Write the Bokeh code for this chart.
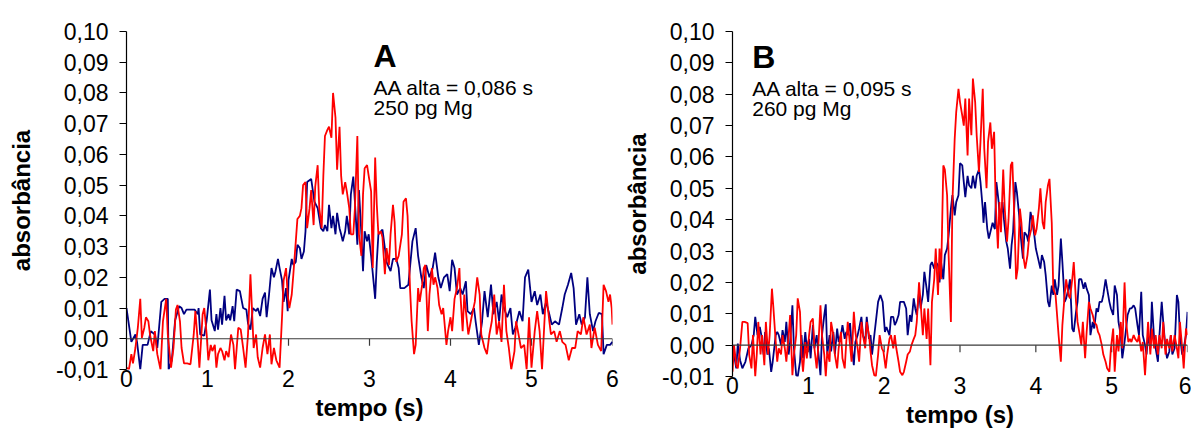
from bokeh.plotting import figure
from bokeh.layouts import row
from bokeh.models import (ColumnDataSource, Label, Span, FixedTicker,
                          CustomJSTickFormatter)
from bokeh.embed import file_html
from bokeh.resources import INLINE

# ---------------------------------------------------------------- data
time_ticks = [0, 1, 2, 3, 4, 5, 6]
abs_ticks = [-0.01, 0.00, 0.01, 0.02, 0.03, 0.04, 0.05, 0.06, 0.07, 0.08, 0.09, 0.10]

# panel A: (tempo s, absorbância)
a_blue = [(0.00,0.0100),(0.06,-0.0010),(0.11,0.0014),(0.13,-0.0010),(0.17,-0.0100),(0.20,-0.0020),(0.26,-0.0020),(0.30,0.0025),(0.35,0.0014),(0.38,-0.0030),(0.43,0.0120),(0.47,0.0130),(0.51,0.0130),(0.52,-0.0100),(0.56,-0.0070),(0.60,0.0060),(0.65,0.0106),(0.68,0.0100),(0.71,0.0080),(0.74,0.0095),(0.79,0.0095),(0.84,0.0095),(0.88,0.0080),(0.89,0.0100),(0.91,0.0014),(0.96,0.0010),(0.99,0.0060),(1.03,0.0160),(1.05,0.0060),(1.09,0.0025),(1.11,0.0080),(1.13,0.0030),(1.16,0.0100),(1.18,0.0046),(1.21,0.0140),(1.23,0.0060),(1.26,0.0080),(1.28,0.0060),(1.31,0.0106),(1.33,0.0057),(1.36,0.0160),(1.40,0.0155),(1.44,0.0100),(1.48,0.0095),(1.50,0.0050),(1.53,0.0030),(1.56,0.0100),(1.60,0.0090),(1.62,0.0100),(1.65,0.0074),(1.68,0.0130),(1.71,0.0150),(1.73,0.0070),(1.76,0.0144),(1.79,0.0230),(1.82,0.0200),(1.84,0.0220),(1.87,0.0260),(1.89,0.0230),(1.92,0.0190),(1.94,0.0120),(1.97,0.0165),(1.99,0.0090),(2.00,0.0190),(2.04,0.0260),(2.06,0.0240),(2.09,0.0250),(2.11,0.0306),(2.14,0.0295),(2.16,0.0260),(2.19,0.0284),(2.21,0.0350),(2.23,0.0510),(2.28,0.0520),(2.32,0.0446),(2.36,0.0425),(2.40,0.0360),(2.43,0.0350),(2.45,0.0370),(2.48,0.0350),(2.50,0.0436),(2.53,0.0360),(2.55,0.0400),(2.58,0.0340),(2.60,0.0410),(2.63,0.0360),(2.65,0.0340),(2.67,0.0317),(2.70,0.0350),(2.72,0.0400),(2.75,0.0340),(2.77,0.0470),(2.80,0.0528),(2.82,0.0446),(2.85,0.0306),(2.87,0.0484),(2.90,0.0340),(2.92,0.0220),(2.94,0.0350),(2.97,0.0317),(2.99,0.0340),(3.02,0.0270),(3.07,0.0130),(3.09,0.0250),(3.11,0.0340),(3.16,0.0355),(3.19,0.0295),(3.21,0.0250),(3.26,0.0220),(3.29,0.0260),(3.33,0.0260),(3.36,0.0230),(3.38,0.0165),(3.43,0.0165),(3.48,0.0176),(3.53,0.0317),(3.57,0.0360),(3.60,0.0270),(3.64,0.0200),(3.67,0.0165),(3.70,0.0240),(3.74,0.0200),(3.78,0.0230),(3.81,0.0280),(3.85,0.0200),(3.88,0.0165),(3.92,0.0200),(3.96,0.0210),(3.99,0.0155),(4.02,0.0257),(4.05,0.0230),(4.08,0.0144),(4.12,0.0165),(4.15,0.0144),(4.19,0.0187),(4.21,0.0090),(4.25,0.0080),(4.29,0.0100),(4.31,0.0057),(4.35,-0.0020),(4.39,0.0057),(4.42,0.0155),(4.46,0.0070),(4.50,0.0176),(4.53,0.0080),(4.57,0.0120),(4.60,0.0057),(4.63,0.0144),(4.66,0.0100),(4.70,0.0070),(4.74,0.0100),(4.77,0.0014),(4.80,0.0036),(4.85,0.0090),(4.89,0.0057),(4.92,0.0200),(4.96,0.0225),(5.00,0.0120),(5.04,0.0155),(5.07,0.0110),(5.11,0.0144),(5.14,0.0080),(5.18,0.0120),(5.22,0.0080),(5.25,0.0046),(5.29,0.0057),(5.34,0.0046),(5.38,0.0100),(5.41,0.0144),(5.45,0.0176),(5.49,0.0214),(5.52,0.0165),(5.55,0.0046),(5.59,0.0080),(5.62,0.0046),(5.66,0.0070),(5.69,0.0200),(5.72,0.0080),(5.76,0.0025),(5.79,0.0057),(5.83,0.0084),(5.87,0.0080),(5.89,-0.0050),(5.93,-0.0020),(5.97,-0.0020),(6.00,-0.0010)]

a_red = [(0.00,-0.0094),(0.03,-0.0100),(0.06,-0.0050),(0.08,-0.0080),(0.11,-0.0030),(0.14,0.0036),(0.17,0.0130),(0.19,0.0003),(0.22,0.0036),(0.24,0.0070),(0.27,0.0057),(0.29,0.0014),(0.33,-0.0040),(0.35,0.0025),(0.38,-0.0050),(0.42,-0.0100),(0.45,0.0057),(0.49,0.0130),(0.51,0.0014),(0.55,-0.0094),(0.58,-0.0030),(0.61,0.0095),(0.63,0.0110),(0.66,0.0057),(0.68,-0.0030),(0.71,-0.0080),(0.75,-0.0080),(0.79,-0.0083),(0.83,0.0014),(0.85,0.0090),(0.88,-0.0010),(0.90,-0.0094),(0.94,0.0080),(0.96,0.0100),(0.99,0.0014),(1.01,-0.0070),(1.04,-0.0020),(1.06,-0.0040),(1.09,-0.0020),(1.11,-0.0094),(1.13,-0.0050),(1.16,-0.0030),(1.18,-0.0040),(1.21,-0.0070),(1.23,-0.0040),(1.26,-0.0060),(1.29,0.0014),(1.32,-0.0020),(1.34,-0.0100),(1.38,0.0036),(1.41,0.0030),(1.44,-0.0030),(1.47,-0.0094),(1.50,0.0014),(1.53,0.0210),(1.55,0.0090),(1.57,-0.0030),(1.60,0.0014),(1.62,-0.0060),(1.65,-0.0094),(1.68,-0.0030),(1.71,0.0014),(1.74,-0.0050),(1.77,0.0014),(1.79,-0.0083),(1.82,-0.0030),(1.85,-0.0070),(1.89,-0.0094),(1.92,0.0070),(1.94,0.0190),(1.97,0.0230),(1.99,0.0144),(2.01,0.0100),(2.04,0.0144),(2.06,0.0210),(2.09,0.0317),(2.11,0.0390),(2.14,0.0400),(2.16,0.0425),(2.18,0.0500),(2.21,0.0510),(2.23,0.0360),(2.26,0.0425),(2.28,0.0484),(2.31,0.0370),(2.33,0.0495),(2.36,0.0565),(2.38,0.0425),(2.41,0.0360),(2.43,0.0530),(2.45,0.0660),(2.48,0.0680),(2.50,0.0690),(2.53,0.0654),(2.55,0.0800),(2.58,0.0720),(2.60,0.0550),(2.63,0.0690),(2.65,0.0530),(2.67,0.0470),(2.70,0.0510),(2.72,0.0480),(2.75,0.0425),(2.77,0.0340),(2.80,0.0340),(2.82,0.0425),(2.85,0.0660),(2.87,0.0340),(2.90,0.0270),(2.92,0.0470),(2.94,0.0555),(2.97,0.0565),(2.99,0.0530),(3.02,0.0480),(3.04,0.0230),(3.07,0.0590),(3.09,0.0436),(3.11,0.0340),(3.14,0.0350),(3.16,0.0330),(3.19,0.0210),(3.21,0.0295),(3.24,0.0240),(3.26,0.0340),(3.29,0.0436),(3.31,0.0380),(3.33,0.0250),(3.36,0.0270),(3.40,0.0340),(3.42,0.0446),(3.45,0.0457),(3.47,0.0400),(3.50,0.0165),(3.52,0.0057),(3.55,-0.0050),(3.57,-0.0020),(3.60,0.0165),(3.62,0.0120),(3.65,0.0176),(3.67,0.0230),(3.69,0.0240),(3.72,0.0025),(3.74,0.0144),(3.77,0.0230),(3.79,0.0176),(3.81,0.0200),(3.84,0.0165),(3.86,0.0110),(3.89,0.0080),(3.91,0.0100),(3.95,-0.0020),(3.97,0.0025),(4.00,0.0070),(4.02,0.0025),(4.05,0.0130),(4.08,0.0165),(4.11,0.0230),(4.12,0.0155),(4.15,0.0025),(4.17,0.0144),(4.19,0.0090),(4.22,0.0014),(4.26,0.0070),(4.30,0.0120),(4.33,0.0200),(4.36,0.0144),(4.38,0.0014),(4.42,-0.0030),(4.45,-0.0050),(4.48,0.0014),(4.51,0.0057),(4.54,0.0144),(4.57,0.0014),(4.60,0.0057),(4.63,-0.0010),(4.66,0.0176),(4.69,0.0025),(4.72,-0.0030),(4.75,-0.0100),(4.79,-0.0040),(4.81,0.0057),(4.84,0.0014),(4.87,-0.0030),(4.91,-0.0020),(4.94,-0.0100),(4.97,0.0070),(5.00,-0.0094),(5.04,0.0025),(5.07,0.0090),(5.10,0.0025),(5.13,-0.0100),(5.16,0.0057),(5.18,0.0155),(5.22,0.0057),(5.24,0.0014),(5.28,0.0025),(5.31,-0.0010),(5.35,0.0025),(5.38,-0.0010),(5.42,-0.0020),(5.46,-0.0070),(5.50,-0.0030),(5.54,-0.0030),(5.57,0.0025),(5.61,0.0014),(5.64,0.0070),(5.68,0.0014),(5.72,0.0046),(5.74,-0.0030),(5.78,0.0036),(5.82,-0.0020),(5.86,-0.0040),(5.89,0.0176),(5.92,0.0155),(5.95,0.0120),(5.97,0.0144),(5.99,0.0100),(6.00,0.0046)]

# panel B: (tempo s, absorbância)
b_blue = [(0.00,0.0000),(0.02,-0.0030),(0.05,-0.0074),(0.07,0.0005),(0.10,-0.0048),(0.13,-0.0074),(0.17,-0.0053),(0.21,-0.0010),(0.25,0.0000),(0.28,0.0032),(0.30,0.0090),(0.33,0.0032),(0.36,0.0058),(0.38,0.0032),(0.41,-0.0030),(0.43,0.0042),(0.46,-0.0030),(0.48,-0.0010),(0.51,-0.0085),(0.53,-0.0053),(0.57,0.0032),(0.59,0.0042),(0.61,0.0032),(0.64,0.0000),(0.66,0.0048),(0.69,0.0010),(0.71,0.0074),(0.74,-0.0030),(0.76,0.0010),(0.79,0.0127),(0.81,-0.0010),(0.84,-0.0096),(0.86,-0.0100),(0.89,-0.0053),(0.91,0.0032),(0.93,-0.0042),(0.96,0.0042),(0.98,-0.0010),(1.01,0.0020),(1.03,-0.0042),(1.06,0.0064),(1.08,-0.0010),(1.11,0.0032),(1.13,-0.0020),(1.16,-0.0096),(1.18,0.0032),(1.21,0.0096),(1.23,0.0130),(1.25,-0.0030),(1.28,0.0032),(1.30,-0.0020),(1.33,0.0042),(1.35,-0.0030),(1.38,0.0053),(1.40,0.0010),(1.43,0.0032),(1.45,0.0064),(1.48,0.0020),(1.50,0.0042),(1.52,0.0032),(1.55,0.0070),(1.57,0.0000),(1.60,-0.0064),(1.62,0.0010),(1.65,0.0032),(1.67,0.0053),(1.70,0.0090),(1.72,0.0032),(1.75,0.0010),(1.77,0.0090),(1.80,0.0020),(1.82,0.0032),(1.84,-0.0030),(1.87,0.0032),(1.89,0.0074),(1.92,0.0138),(1.95,0.0160),(1.98,0.0138),(2.01,0.0042),(2.03,0.0058),(2.07,0.0032),(2.09,0.0090),(2.12,0.0090),(2.14,0.0064),(2.16,0.0074),(2.19,0.0096),(2.21,0.0138),(2.24,0.0138),(2.26,0.0138),(2.29,0.0117),(2.31,0.0032),(2.34,0.0096),(2.36,0.0074),(2.39,0.0149),(2.41,0.0117),(2.43,0.0096),(2.46,0.0170),(2.48,0.0117),(2.51,0.0160),(2.53,0.0234),(2.56,0.0180),(2.58,0.0138),(2.61,0.0255),(2.63,0.0265),(2.66,0.0244),(2.68,0.0265),(2.71,0.0255),(2.73,0.0200),(2.75,0.0265),(2.78,0.0210),(2.80,0.0287),(2.83,0.0308),(2.85,0.0350),(2.88,0.0435),(2.90,0.0478),(2.93,0.0414),(2.95,0.0456),(2.98,0.0478),(3.00,0.0580),(3.03,0.0573),(3.05,0.0520),(3.07,0.0472),(3.10,0.0540),(3.12,0.0510),(3.15,0.0500),(3.17,0.0540),(3.20,0.0500),(3.22,0.0540),(3.25,0.0560),(3.27,0.0520),(3.30,0.0435),(3.31,0.0390),(3.33,0.0456),(3.36,0.0370),(3.38,0.0340),(3.41,0.0370),(3.43,0.0390),(3.46,0.0370),(3.48,0.0520),(3.51,0.0456),(3.53,0.0390),(3.56,0.0456),(3.58,0.0400),(3.61,0.0330),(3.63,0.0308),(3.66,0.0244),(3.68,0.0318),(3.70,0.0360),(3.73,0.0520),(3.75,0.0488),(3.78,0.0414),(3.80,0.0350),(3.83,0.0276),(3.85,0.0360),(3.88,0.0350),(3.90,0.0330),(3.93,0.0425),(3.95,0.0400),(3.98,0.0350),(4.00,0.0308),(4.02,0.0287),(4.06,0.0244),(4.08,0.0287),(4.11,0.0265),(4.13,0.0223),(4.16,0.0138),(4.18,0.0122),(4.21,0.0190),(4.23,0.0160),(4.25,0.0210),(4.28,0.0160),(4.30,0.0190),(4.33,0.0340),(4.35,0.0265),(4.38,0.0138),(4.40,0.0149),(4.43,0.0180),(4.45,0.0210),(4.48,0.0053),(4.50,0.0042),(4.53,0.0106),(4.55,0.0138),(4.57,0.0210),(4.60,0.0210),(4.63,0.0180),(4.65,0.0200),(4.67,0.0180),(4.70,0.0160),(4.72,0.0032),(4.75,0.0074),(4.77,0.0053),(4.80,0.0117),(4.82,0.0106),(4.84,0.0138),(4.87,0.0138),(4.89,0.0160),(4.92,0.0210),(4.94,0.0180),(4.97,0.0138),(4.99,0.0117),(5.02,0.0096),(5.04,0.0190),(5.07,0.0160),(5.09,0.0074),(5.12,0.0032),(5.14,-0.0042),(5.17,0.0010),(5.19,0.0053),(5.21,0.0096),(5.24,0.0117),(5.26,0.0117),(5.29,0.0127),(5.31,0.0117),(5.34,0.0064),(5.36,0.0032),(5.39,0.0170),(5.41,0.0032),(5.44,0.0000),(5.46,-0.0030),(5.48,0.0032),(5.51,-0.0010),(5.53,0.0138),(5.56,0.0020),(5.58,-0.0010),(5.61,-0.0053),(5.63,0.0032),(5.66,0.0138),(5.68,0.0074),(5.71,-0.0010),(5.73,-0.0042),(5.76,-0.0020),(5.78,0.0032),(5.80,-0.0030),(5.83,-0.0010),(5.86,0.0160),(5.88,0.0138),(5.90,0.0032),(5.93,-0.0030),(5.95,-0.0010),(5.98,0.0032),(6.00,0.0106)]

b_red = [(0.00,-0.0085),(0.02,0.0000),(0.05,-0.0064),(0.07,-0.0074),(0.10,-0.0010),(0.13,0.0074),(0.16,0.0074),(0.20,0.0070),(0.22,-0.0030),(0.25,-0.0074),(0.27,0.0032),(0.30,-0.0100),(0.32,-0.0030),(0.34,0.0074),(0.37,-0.0030),(0.39,0.0032),(0.42,-0.0064),(0.44,0.0074),(0.47,-0.0030),(0.49,0.0032),(0.52,0.0180),(0.54,0.0117),(0.57,0.0010),(0.59,-0.0053),(0.61,-0.0010),(0.64,-0.0030),(0.66,0.0032),(0.69,-0.0010),(0.71,-0.0053),(0.74,0.0032),(0.76,0.0096),(0.79,-0.0096),(0.81,-0.0030),(0.84,0.0032),(0.86,0.0149),(0.89,0.0106),(0.91,-0.0030),(0.93,-0.0085),(0.96,0.0010),(0.98,-0.0042),(1.01,0.0032),(1.03,0.0074),(1.06,0.0085),(1.08,-0.0010),(1.11,-0.0074),(1.13,-0.0010),(1.16,0.0127),(1.18,0.0032),(1.21,-0.0030),(1.23,-0.0100),(1.25,-0.0020),(1.28,-0.0053),(1.30,0.0074),(1.33,0.0032),(1.35,-0.0030),(1.38,-0.0074),(1.40,-0.0010),(1.43,0.0042),(1.45,-0.0042),(1.48,-0.0074),(1.50,0.0010),(1.52,0.0074),(1.55,0.0000),(1.57,-0.0053),(1.60,0.0106),(1.62,0.0042),(1.65,-0.0010),(1.67,-0.0053),(1.70,0.0074),(1.72,0.0032),(1.75,-0.0010),(1.77,0.0074),(1.80,0.0032),(1.82,-0.0020),(1.84,-0.0064),(1.87,-0.0096),(1.89,-0.0100),(1.92,-0.0030),(1.94,0.0032),(1.97,-0.0010),(1.99,-0.0020),(2.02,-0.0074),(2.04,-0.0030),(2.07,0.0020),(2.09,0.0032),(2.12,-0.0010),(2.14,0.0032),(2.16,-0.0010),(2.19,-0.0053),(2.21,-0.0085),(2.24,-0.0096),(2.26,-0.0085),(2.29,-0.0053),(2.31,-0.0030),(2.34,-0.0020),(2.36,0.0000),(2.39,0.0020),(2.41,0.0032),(2.43,0.0074),(2.46,0.0200),(2.48,0.0138),(2.51,0.0032),(2.53,0.0117),(2.56,0.0020),(2.58,0.0117),(2.61,-0.0064),(2.63,0.0138),(2.66,0.0210),(2.68,0.0308),(2.71,0.0160),(2.73,0.0308),(2.75,0.0210),(2.78,0.0573),(2.80,0.0560),(2.83,0.0478),(2.85,0.0287),(2.88,0.0074),(2.90,0.0456),(2.93,0.0658),(2.95,0.0743),(2.98,0.0817),(3.00,0.0775),(3.03,0.0732),(3.05,0.0700),(3.07,0.0786),(3.10,0.0605),(3.12,0.0786),(3.15,0.0669),(3.17,0.0850),(3.20,0.0775),(3.22,0.0669),(3.25,0.0552),(3.27,0.0648),(3.30,0.0817),(3.32,0.0626),(3.35,0.0500),(3.37,0.0648),(3.40,0.0710),(3.42,0.0626),(3.45,0.0680),(3.47,0.0456),(3.50,0.0308),(3.52,0.0456),(3.54,0.0360),(3.57,0.0560),(3.59,0.0435),(3.62,0.0330),(3.64,0.0400),(3.67,0.0573),(3.69,0.0584),(3.71,0.0456),(3.74,0.0210),(3.76,0.0244),(3.79,0.0435),(3.81,0.0390),(3.84,0.0276),(3.86,0.0244),(3.89,0.0287),(3.91,0.0340),(3.94,0.0370),(3.96,0.0414),(3.99,0.0350),(4.01,0.0370),(4.04,0.0435),(4.06,0.0500),(4.09,0.0390),(4.11,0.0370),(4.13,0.0456),(4.16,0.0510),(4.18,0.0530),(4.21,0.0390),(4.23,0.0180),(4.26,0.0160),(4.28,0.0096),(4.30,0.0032),(4.33,-0.0053),(4.35,0.0064),(4.38,0.0160),(4.40,0.0210),(4.43,0.0160),(4.45,0.0149),(4.48,0.0210),(4.50,0.0265),(4.53,0.0138),(4.55,0.0074),(4.58,0.0032),(4.60,0.0000),(4.62,0.0074),(4.65,-0.0042),(4.67,0.0042),(4.70,0.0138),(4.72,0.0117),(4.75,0.0096),(4.77,0.0074),(4.80,0.0064),(4.82,0.0042),(4.84,0.0032),(4.87,0.0000),(4.89,-0.0030),(4.92,-0.0053),(4.94,-0.0074),(4.97,-0.0085),(4.99,-0.0010),(5.02,0.0053),(5.04,-0.0085),(5.07,0.0032),(5.09,-0.0020),(5.12,0.0074),(5.14,-0.0010),(5.17,0.0200),(5.19,0.0074),(5.22,0.0010),(5.24,0.0020),(5.26,0.0010),(5.29,0.0032),(5.31,0.0020),(5.34,0.0010),(5.36,0.0032),(5.39,-0.0020),(5.41,0.0010),(5.44,-0.0096),(5.46,-0.0010),(5.48,0.0074),(5.51,-0.0030),(5.53,0.0053),(5.56,-0.0010),(5.58,0.0032),(5.61,-0.0030),(5.63,0.0032),(5.66,-0.0010),(5.68,0.0074),(5.71,-0.0030),(5.73,0.0020),(5.76,-0.0010),(5.78,0.0032),(5.80,-0.0020),(5.83,0.0032),(5.86,-0.0010),(5.88,-0.0042),(5.90,0.0074),(5.93,-0.0010),(5.95,-0.0074),(5.98,0.0053),(6.00,0.0032)]

panel_a_text = ["A", "AA alta = 0,086 s", "250 pg Mg"]
panel_b_text = ["B", "AA alta = 0,095 s", "260 pg Mg"]

# ---------------------------------------------------------------- style
FONT = "Liberation Sans"
BLUE = "#000080"
RED = "#FF0000"
ZERO = "#3a3a3a"


def source(pairs):
    return ColumnDataSource(data=dict(t=[p[0] for p in pairs],
                                      a=[p[1] for p in pairs]))


def panel(blue, red, texts, text_x, text_y, width, left, right,
          top, frame_w, frame_h, ylabel_gap):
    y_lo, y_hi = abs_ticks[0], abs_ticks[-1]
    p = figure(width=width, height=428, frame_width=frame_w, frame_height=frame_h,
               x_range=(time_ticks[0], time_ticks[-1]), y_range=(y_lo, y_hi),
               min_border_left=left, min_border_right=right,
               min_border_top=top, min_border_bottom=428 - top - frame_h,
               output_backend="svg", toolbar_location=None,
               background_fill_color="white", border_fill_color="white")
    p.outline_line_color = None
    p.xgrid.visible = False
    p.ygrid.visible = False

    # y axis
    ya = p.yaxis[0]
    ya.ticker = FixedTicker(ticks=abs_ticks)
    ya.formatter = CustomJSTickFormatter(code="return tick.toFixed(2).replace('.', ',');")
    ya.axis_line_color = "black"
    ya.axis_line_width = 1.2
    ya.major_tick_line_color = "black"
    ya.major_tick_out = 7
    ya.major_tick_in = 0
    ya.minor_tick_line_color = None
    ya.major_label_standoff = 11
    ya.major_label_text_font = FONT
    ya.major_label_text_font_size = "23px"
    ya.major_label_text_color = "black"
    ya.axis_label = "absorbância"
    ya.axis_label_text_font = FONT
    ya.axis_label_text_font_style = "bold"
    ya.axis_label_text_font_size = "24px"
    ya.axis_label_text_color = "black"
    ya.axis_label_standoff = ylabel_gap

    # x axis: labels only, the line is drawn at zero
    xa = p.xaxis[0]
    xa.ticker = FixedTicker(ticks=time_ticks)
    xa.axis_line_color = None
    xa.major_tick_line_color = None
    xa.major_tick_out = 0
    xa.major_tick_in = 0
    xa.minor_tick_line_color = None
    xa.major_label_standoff = 0
    xa.major_label_text_font = FONT
    xa.major_label_text_font_size = "23px"
    xa.major_label_text_color = "black"
    xa.axis_label = "tempo (s)"
    xa.axis_label_text_font = FONT
    xa.axis_label_text_font_style = "bold"
    xa.axis_label_text_font_size = "24px"
    xa.axis_label_text_color = "black"
    xa.axis_label_standoff = 4

    p.add_layout(Span(location=0, dimension="width", line_color=ZERO, line_width=1.2))
    tick_len = 7 * (y_hi - y_lo) / frame_h
    p.segment(x0=time_ticks[1:], y0=[0] * (len(time_ticks) - 1),
              x1=time_ticks[1:], y1=[-tick_len] * (len(time_ticks) - 1),
              line_color=ZERO, line_width=1.2)

    p.line("t", "a", source=source(blue), line_color=BLUE, line_width=1.8)
    p.line("t", "a", source=source(red), line_color=RED, line_width=1.8)

    p.add_layout(Label(x=text_x, y=text_y[0], text=texts[0], text_font=FONT,
                       text_font_style="bold", text_font_size="32px",
                       text_color="black", text_baseline="alphabetic"))
    for txt, ty in zip(texts[1:], text_y[1:]):
        p.add_layout(Label(x=text_x, y=ty, text=txt, text_font=FONT,
                           text_font_size="21px", text_color="black",
                           text_baseline="alphabetic"))
    return p


pa = panel(a_blue, a_red, panel_a_text, 3.05, [0.0921, 0.0818, 0.0752],
           width=620, left=126, right=8, top=31, frame_w=486, frame_h=338,
           ylabel_gap=18)
pb = panel(b_blue, b_red, panel_b_text, 0.26, [0.0918, 0.0817, 0.0753],
           width=571, left=112, right=4, top=29, frame_w=455, frame_h=345,
           ylabel_gap=8)

layout = row(pa, pb, spacing=0)
open("out.html", "w").write(file_html(layout, INLINE))
